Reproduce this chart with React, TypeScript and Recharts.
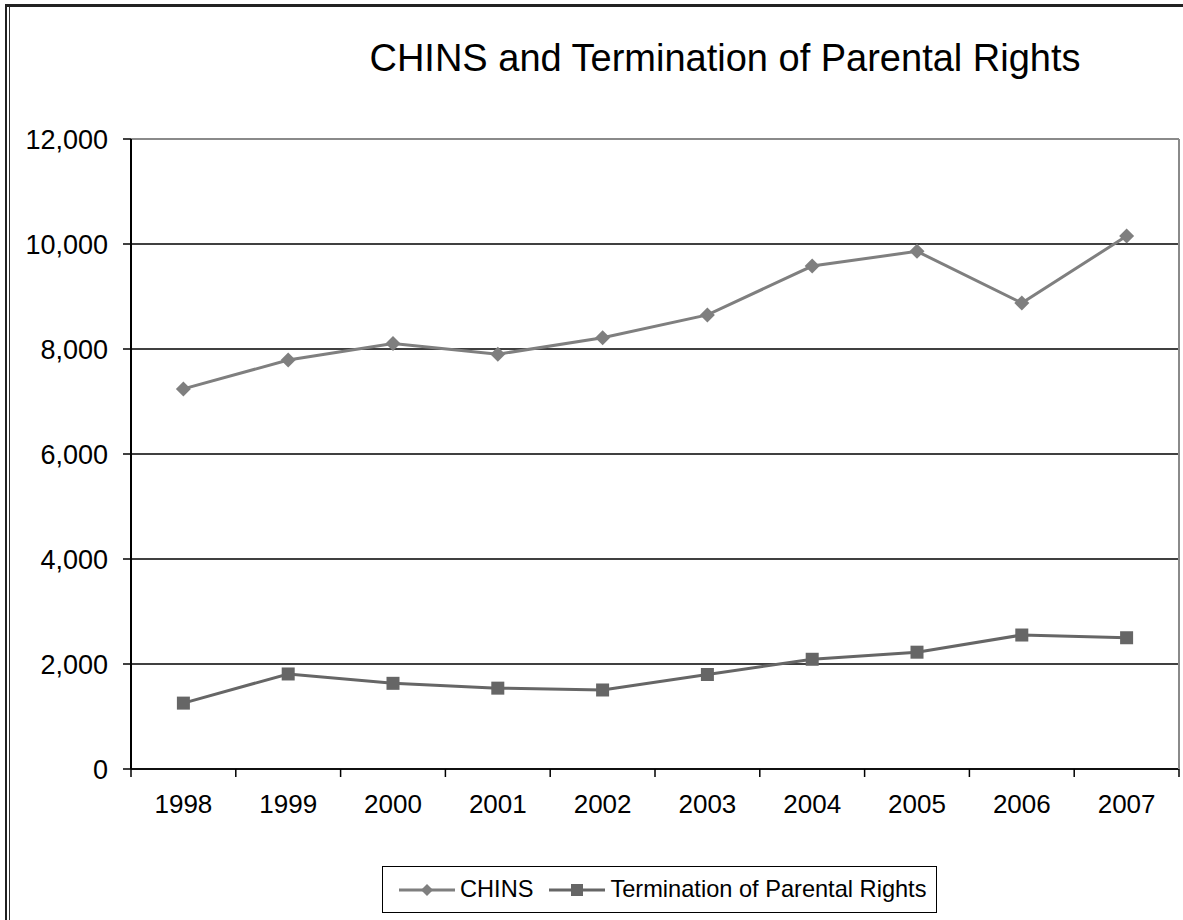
import React from 'react';
import { LineChart, Line, XAxis, YAxis, CartesianGrid, Legend, ReferenceLine } from 'recharts';

const years = ['1998', '1999', '2000', '2001', '2002', '2003', '2004', '2005', '2006', '2007'];
const chinsValues = [7240, 7790, 8105, 7900, 8215, 8650, 9580, 9860, 8876, 10152];
const tprValues = [1255, 1810, 1632, 1540, 1505, 1800, 2090, 2225, 2552, 2500];
const yTicks = [0, 2000, 4000, 6000, 8000, 10000, 12000];

const data = years.map((y, i) => ({ year: y, chins: chinsValues[i], tpr: tprValues[i] }));

const FONT = '"Liberation Sans", Arial, sans-serif';
const CHINS_COLOR = '#7f7f7f';
const TPR_COLOR = '#666666';
const X_TICK_SIZE = 8;
const X_TICK_MARGIN = 18;

const Diamond = (props: any) => {
  const { cx, cy, fill } = props;
  if (cx == null || cy == null) return null;
  const r = 7.5;
  return <polygon points={`${cx},${cy - r} ${cx + r},${cy} ${cx},${cy + r} ${cx - r},${cy}`} fill={fill} />;
};

const Square = (props: any) => {
  const { cx, cy, fill } = props;
  if (cx == null || cy == null) return null;
  const s = 13;
  return <rect x={cx - s / 2} y={cy - s / 2} width={s} height={s} fill={fill} />;
};

const XTick = (props: any) => {
  const { x, y, payload, index, width } = props;
  const off = payload && payload.offset ? payload.offset : width / years.length / 2;
  const axisY = y - X_TICK_SIZE - X_TICK_MARGIN;
  return (
    <g>
      <line x1={x - off} x2={x - off} y1={axisY} y2={axisY + X_TICK_SIZE} stroke="#000" strokeWidth={1.5} />
      {index === years.length - 1 && (
        <line x1={x + off} x2={x + off} y1={axisY} y2={axisY + X_TICK_SIZE} stroke="#000" strokeWidth={1.5} />
      )}
      <text x={x} y={y} dy="0.71em" textAnchor="middle" fill="#000" fontSize={26} fontFamily={FONT}>
        {payload.value}
      </text>
    </g>
  );
};

const LegendIcon = ({ color, shape }: { color: string; shape: string }) => (
  <svg width={56} height={20} style={{ display: 'block' }}>
    <line x1={0} x2={56} y1={10} y2={10} stroke={color} strokeWidth={3} />
    {shape === 'diamond' ? (
      <polygon points="28,4 34,10 28,16 22,10" fill={color} />
    ) : (
      <rect x={22} y={4} width={12} height={12} fill={color} />
    )}
  </svg>
);

const LegendContent = (props: any) => {
  const items = props.payload || [];
  return (
    <div
      style={{
        display: 'flex',
        alignItems: 'center',
        border: '1.5px solid #000',
        background: '#fff',
        padding: '9px 10px 9px 16px',
        fontFamily: FONT,
        fontSize: 23.6,
        color: '#000',
        whiteSpace: 'nowrap',
      }}
    >
      {items.map((it: any, i: number) => (
        <div key={i} style={{ display: 'flex', alignItems: 'center', marginRight: i === 0 ? 16 : 0 }}>
          <LegendIcon color={it.color} shape={i === 0 ? 'diamond' : 'square'} />
          <span style={{ marginLeft: 5 }}>{it.value}</span>
        </div>
      ))}
    </div>
  );
};

export default function App() {
  return (
    <div style={{ position: 'absolute', left: 0, top: 0, width: 1183, height: 920, background: '#fff', overflow: 'hidden' }}>
      {/* frame */}
      <div style={{ position: 'absolute', left: 5, top: 4, width: 1300, height: 1000, borderTop: '3px solid #222', borderLeft: '2px solid #222' }} />
      <div style={{ position: 'absolute', left: 9, top: 7, width: 1300, height: 1000, borderLeft: '1.5px solid #333' }} />
      <div
        style={{
          position: 'absolute',
          left: 0,
          width: 1450,
          top: 38,
          textAlign: 'center',
          fontFamily: FONT,
          fontSize: 38,
          lineHeight: '40px',
          color: '#000',
        }}
      >
        CHINS and Termination of Parental Rights
      </div>
      <div style={{ position: 'absolute', left: 0, top: 0 }}>
        <LineChart width={1183} height={920} data={data} margin={{ top: 139, right: 0, bottom: 0, left: 0 }}>
          <CartesianGrid vertical={false} stroke="#000" strokeWidth={1.3} />
          <ReferenceLine y={12000} stroke="#8a8a8a" strokeWidth={2} />
          <XAxis
            dataKey="year"
            scale="band"
            tickLine={false}
            tickSize={X_TICK_SIZE}
            tickMargin={X_TICK_MARGIN}
            axisLine={{ stroke: '#000', strokeWidth: 1.5 }}
            tick={<XTick />}
            interval={0}
            height={151}
          />
          <YAxis
            domain={[0, 12000]}
            ticks={yTicks}
            width={131}
            tickSize={8}
            tickMargin={15}
            tickLine={{ stroke: '#000', strokeWidth: 1.5 }}
            axisLine={{ stroke: '#000', strokeWidth: 2 }}
            tick={{ fill: '#000', fontSize: 27, fontFamily: FONT }}
            tickFormatter={(v: number) => v.toLocaleString('en-US')}
            interval={0}
          />
          <YAxis
            yAxisId="r"
            orientation="right"
            domain={[0, 12000]}
            ticks={yTicks}
            width={4}
            tick={false}
            tickLine={false}
            axisLine={{ stroke: '#8a8a8a', strokeWidth: 2 }}
          />
          <Legend
            verticalAlign="middle"
            align="center"
            layout="horizontal"
            wrapperStyle={{ top: 866, left: 382, width: 'auto', height: 'auto' }}
            content={<LegendContent />}
          />
          <Line
            type="linear"
            dataKey="chins"
            name="CHINS"
            stroke={CHINS_COLOR}
            fill={CHINS_COLOR}
            strokeWidth={3}
            dot={<Diamond fill={CHINS_COLOR} />}
            isAnimationActive={false}
          />
          <Line
            type="linear"
            dataKey="tpr"
            name="Termination of Parental Rights"
            stroke={TPR_COLOR}
            fill={TPR_COLOR}
            strokeWidth={3}
            dot={<Square fill={TPR_COLOR} />}
            isAnimationActive={false}
          />
        </LineChart>
      </div>
    </div>
  );
}
